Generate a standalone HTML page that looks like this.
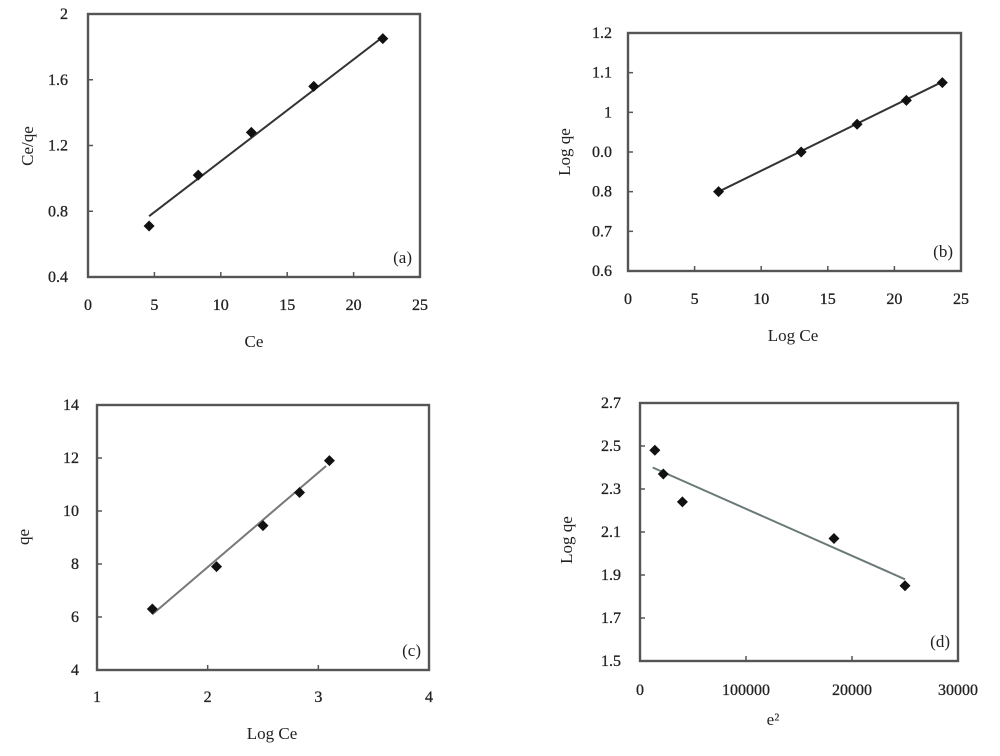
<!DOCTYPE html>
<html><head><meta charset="utf-8"><style>
html,body{margin:0;padding:0;background:#fff}
svg text{font-family:"Liberation Serif",serif;fill:#222}
</style></head><body>
<svg id="c" width="1000" height="751" viewBox="0 0 1000 751" xmlns="http://www.w3.org/2000/svg"></svg>
<script>
// Panel (a)
const aX = [4.6, 8.3, 12.3, 17.0, 22.2];
const aY = [0.71, 1.02, 1.28, 1.56, 1.85];
const aFit = [[4.6, 0.77], [22.2, 1.86]];
const aXTicks = ["0","5","10","15","20","25"];
const aYTicks = ["0.4","0.8","1.2","1.6","2"];
// Panel (b)
const bX = [6.8, 13.0, 17.2, 20.9, 23.6];
const bY = [0.80, 0.90, 0.97, 1.03, 1.075];
const bFit = [[6.8, 0.80], [23.6, 1.077]];
const bXTicks = ["0","5","10","15","20","25"];
const bYTicks = ["0.6","0.7","0.8","0.0","1","1.1","1.2"];
// Panel (c)
const cX = [1.5, 2.08, 2.5, 2.83, 3.1];
const cY = [6.3, 7.9, 9.45, 10.7, 11.9];
const cFit = [[1.5, 6.1], [3.07, 11.7]];
const cXTicks = ["1","2","3","4"];
const cYTicks = ["4","6","8","10","12","14"];
// Panel (d)
const dX = [1400, 2200, 4000, 18300, 25000];
const dY = [2.48, 2.37, 2.24, 2.07, 1.85];
const dFit = [[1200, 2.40], [25000, 1.88]];
const dXTicks = ["0","100000","20000","30000"];
const dYTicks = ["1.5","1.7","1.9","2.1","2.3","2.5","2.7"];

const svg = document.getElementById('c');
const NS = 'http://www.w3.org/2000/svg';
function mk(tag, attrs, parent){const e=document.createElementNS(NS,tag);for(const k in attrs)e.setAttribute(k,attrs[k]);(parent||svg).appendChild(e);return e;}

function panel(p){
  const g = mk('g',{});
  
  
  const sx = v => p.L + (v - p.x0)/(p.x1 - p.x0)*(p.R - p.L);
  const sy = v => p.B - (v - p.y0)/(p.y1 - p.y0)*(p.B - p.T);
  const fr = mk('rect',{x:p.L,y:p.T,width:p.R-p.L,height:p.B-p.T,fill:'none',stroke:'#555','stroke-width':2.4},g);
  
  
  const nx = p.xt.length, ny = p.yt.length;
  p.xt.forEach((t,i)=>{
    const x = p.L + i*(p.R-p.L)/(nx-1);
    if(i>0&&i<nx-1) mk('line',{x1:x,x2:x,y1:p.B,y2:p.B-5,stroke:'#555','stroke-width':1.5},g);
    const tx = mk('text',{x:x,y:p.xly,'text-anchor':'middle','font-size':16,'stroke':'#222','stroke-width':0.3},g);
    tx.textContent = t;
    
    
  });
  p.yt.forEach((t,i)=>{
    const y = p.B - i*(p.B-p.T)/(ny-1);
    if(i>0&&i<ny-1) mk('line',{x1:p.L,x2:p.L+5,y1:y,y2:y,stroke:'#555','stroke-width':1.5},g);
    const tx = mk('text',{x:p.ylx,y:y+5,'text-anchor':'end','font-size':16,'stroke':'#222','stroke-width':0.3},g);
    tx.textContent = t;
    
    
  });
  const ln = mk('line',{x1:sx(p.fit[0][0]),y1:sy(p.fit[0][1]),x2:sx(p.fit[1][0]),y2:sy(p.fit[1][1]),stroke:p.lc,'stroke-width':2},g);
  
  
  p.xs.forEach((v,i)=>{
    const cx = sx(v), cy = sy(p.ys[i]), r = 5.5;
    const m = mk('polygon',{points:`${cx},${cy-r} ${cx+r},${cy} ${cx},${cy+r} ${cx-r},${cy}`,fill:'#111'},g);
    
    
  });
  const xt = mk('text',{x:p.xtp[0],y:p.xtp[1],'text-anchor':'middle','font-size':17},g);
  xt.textContent = p.xtitle;
  
  
  const yt = mk('text',{x:0,y:0,'text-anchor':'middle','font-size':17,transform:`translate(${p.ytp[0]},${p.ytp[1]}) rotate(-90)`},g);
  yt.textContent = p.ytitle;
  
  
  const pl = mk('text',{x:p.R-8,y:p.B-14,'text-anchor':'end','font-size':17},g);
  pl.textContent = '('+p.id+')';
  
  
}

panel({id:'a',L:88,R:420,T:14,B:277,x0:0,x1:25,y0:0.4,y1:2,xs:aX,ys:aY,fit:aFit,xt:aXTicks,yt:aYTicks,xly:310,ylx:68,lc:'#333',xtitle:'Ce',xtp:[254,347],ytitle:'Ce/qe',ytp:[33,146]});
panel({id:'b',L:628,R:961,T:33,B:271,x0:0,x1:25,y0:0.6,y1:1.2,xs:bX,ys:bY,fit:bFit,xt:bXTicks,yt:bYTicks,xly:304,ylx:612,lc:'#333',xtitle:'Log Ce',xtp:[793,341],ytitle:'Log qe',ytp:[570,152]});
panel({id:'c',L:97,R:429,T:405,B:670,x0:1,x1:4,y0:4,y1:14,xs:cX,ys:cY,fit:cFit,xt:cXTicks,yt:cYTicks,xly:702,ylx:79,lc:'#777',xtitle:'Log Ce',xtp:[272,739],ytitle:'qe',ytp:[29,537]});
panel({id:'d',L:640,R:958,T:403,B:661,x0:0,x1:30000,y0:1.5,y1:2.7,xs:dX,ys:dY,fit:dFit,xt:dXTicks,yt:dYTicks,xly:695,ylx:621,lc:'#6a7a78',xtitle:'e²',xtp:[773,725],ytitle:'Log qe',ytp:[572,540]});
</script>
</body></html>
